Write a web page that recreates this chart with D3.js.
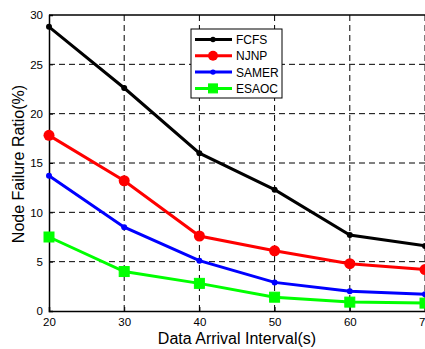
<!DOCTYPE html>
<html>
<head>
<meta charset="utf-8">
<script src="https://cdn.jsdelivr.net/npm/d3@7"></script>
<style>
  body { margin: 0; background: #fff; overflow: hidden; }
  text { font-family: Arial, "Liberation Sans", sans-serif; }
</style>
</head>
<body>
<script>
const intervals = [20, 30, 40, 50, 60, 70];
const fcfs  = [28.8, 22.6, 16.0, 12.3, 7.7, 6.6];
const njnp  = [17.8, 13.2, 7.6, 6.1, 4.8, 4.2];
const samer = [13.7, 8.5, 5.1, 2.9, 2.0, 1.7];
const esaoc = [7.5, 4.0, 2.8, 1.4, 0.9, 0.8];
const seriesNames = ['FCFS', 'NJNP', 'SAMER', 'ESAOC'];
const yTicks = [0, 5, 10, 15, 20, 25, 30];

const width = 425, height = 349;
const svg = d3.select('body').append('svg')
  .attr('width', width).attr('height', height);

const x = d3.scaleLinear().domain([20, 70]).range([49, 425]);
const y = d3.scaleLinear().domain([0, 30]).range([311, 15]);

// grid
const grid = svg.append('g').attr('stroke', '#000').attr('stroke-width', 1)
  .attr('stroke-dasharray', '6,4');
grid.selectAll('.vg').data(intervals.slice(1)).enter().append('line')
  .attr('x1', d => x(d)).attr('x2', d => x(d))
  .attr('y1', y(30)).attr('y2', y(0));
grid.selectAll('.hg').data(yTicks.slice(1, -1)).enter().append('line')
  .attr('x1', x(20)).attr('x2', x(70))
  .attr('y1', d => y(d)).attr('y2', d => y(d));

// frame
svg.append('line').attr('x1', x(20)).attr('x2', x(70)).attr('y1', y(30)).attr('y2', y(30))
  .attr('stroke', '#000').attr('stroke-width', 1.5);

// axes
svg.append('g').attr('transform', `translate(0,${y(0)})`)
  .call(d3.axisBottom(x).tickValues(intervals).tickSize(-4).tickPadding(7))
  .call(g => g.select('.domain').attr('stroke-width', 1.5))
  .call(g => g.selectAll('text').attr('font-size', 11.5).attr('fill', '#000'));
svg.append('g').attr('transform', `translate(${x(20)},0)`)
  .call(d3.axisLeft(y).tickValues(yTicks).tickSize(-4).tickPadding(6))
  .call(g => g.select('.domain').attr('stroke-width', 1.5))
  .call(g => g.selectAll('text').attr('font-size', 11.5).attr('fill', '#000'));

// labels
svg.append('text').attr('x', 237).attr('y', 344).attr('text-anchor', 'middle')
  .attr('font-size', 16).text('Data Arrival Interval(s)');
svg.append('text').attr('transform', 'translate(24,164) rotate(-90)')
  .attr('text-anchor', 'middle').attr('font-size', 16).text('Node Failure Ratio(%)');

const series = [
  { name: 'FCFS', values: fcfs, color: '#000', marker: 'dot', size: 3 },
  { name: 'NJNP', values: njnp, color: '#ff0000', marker: 'circle', size: 5.5 },
  { name: 'SAMER', values: samer, color: '#0000ff', marker: 'dot', size: 3 },
  { name: 'ESAOC', values: esaoc, color: '#00ff00', marker: 'square', size: 5 }
];

const line = d3.line().x(d => x(d[0])).y(d => y(d[1]));

function drawMarker(g, m, cx, cy, color, s) {
  if (m === 'square') {
    g.append('rect').attr('x', cx - s).attr('y', cy - s).attr('width', 2 * s).attr('height', 2 * s)
      .attr('fill', color).attr('stroke', color);
  } else {
    g.append('circle').attr('cx', cx).attr('cy', cy).attr('r', s).attr('fill', color);
  }
}

series.forEach(s => {
  const pts = intervals.map((d, i) => [d, s.values[i]]);
  svg.append('path').datum(pts).attr('d', line)
    .attr('fill', 'none').attr('stroke', s.color).attr('stroke-width', 3);
  const g = svg.append('g');
  pts.forEach(p => drawMarker(g, s.marker, x(p[0]), y(p[1]), s.color, s.size));
});

// legend
const lg = svg.append('g');
lg.append('rect').attr('x', 191).attr('y', 29).attr('width', 91).attr('height', 69)
  .attr('fill', '#fff').attr('stroke', '#000').attr('stroke-width', 1);
series.forEach((s, i) => {
  const ly = 39.5 + i * 16.3;
  lg.append('line').attr('x1', 195).attr('x2', 232).attr('y1', ly).attr('y2', ly)
    .attr('stroke', s.color).attr('stroke-width', 3);
  drawMarker(lg, s.marker, 213, ly, s.color, s.size * 0.9);
  lg.append('text').attr('x', 236).attr('y', ly + 4.5).attr('font-size', 12).text(s.name);
});
</script>
</body>
</html>
